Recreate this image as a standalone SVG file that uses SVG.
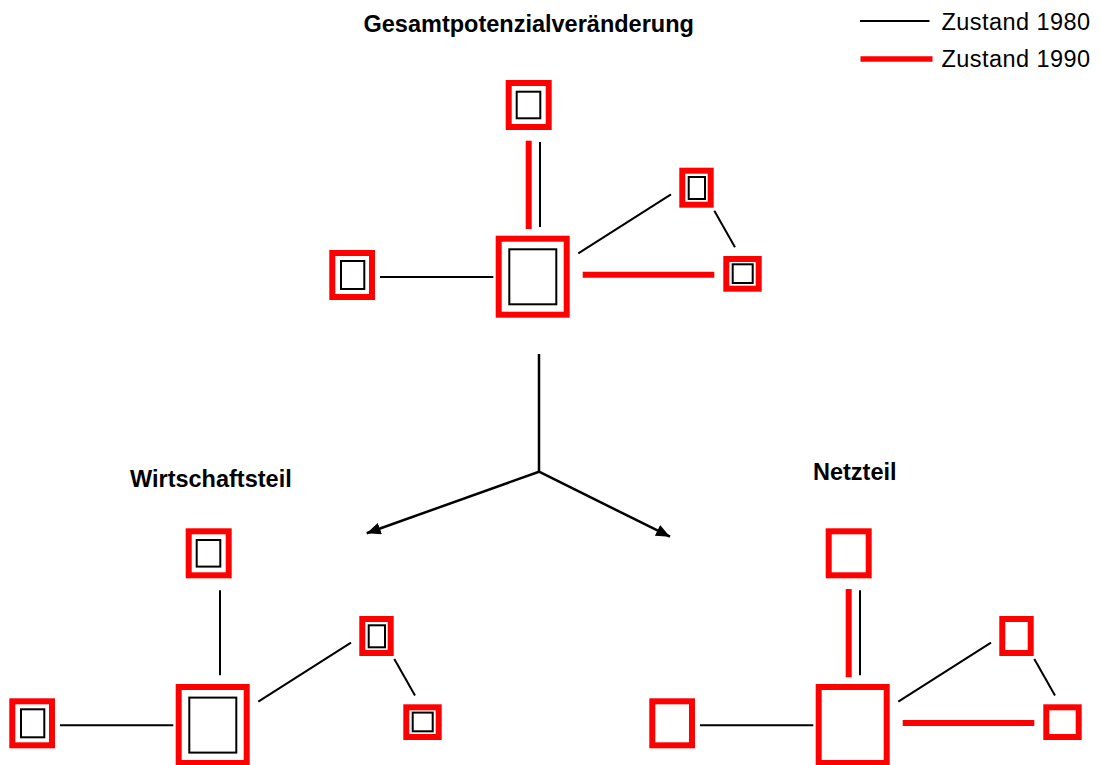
<svg xmlns="http://www.w3.org/2000/svg" width="1100" height="765" viewBox="0 0 1100 765">
<style>
.bg{fill:#fff}
.o{fill:none;stroke:#ff0000;stroke-width:6}
.i{fill:none;stroke:#000;stroke-width:2}
.k{stroke:#000;stroke-width:2;fill:none}
.r{stroke:#ff0000;stroke-width:6;fill:none}
.a{stroke:#000;stroke-width:2.5;fill:none}
.t{font-family:"Liberation Sans",Arial,sans-serif;font-weight:bold;font-size:23.5px;fill:#000}
.l{font-family:"Liberation Sans",Arial,sans-serif;font-size:23.5px;letter-spacing:0.45px;fill:#000}
</style>
<defs>
<marker id="ah" markerUnits="userSpaceOnUse" markerWidth="16" markerHeight="12" refX="14" refY="6" orient="auto">
<path d="M0,0 L14,6 L0,12 Z" fill="#000"/>
</marker>
</defs>
<rect class="bg" x="0" y="0" width="1100" height="765"/>

<g id="legend">
<line class="k" x1="860" y1="21" x2="929.5" y2="21"/>
<line x1="860.5" y1="59" x2="932.5" y2="59" stroke="#ff0000" stroke-width="5.5"/>
<text class="l" x="941.5" y="29.5">Zustand 1980</text>
<text class="l" x="941.5" y="67">Zustand 1990</text>
</g>

<g id="titles">
<text class="t" x="363.5" y="31.5">Gesamtpotenzialveränderung</text>
<text class="t" x="130" y="486.5">Wirtschaftsteil</text>
<text class="t" x="813" y="480">Netzteil</text>
</g>

<!-- Top panel: Gesamt -->
<g id="gesamt">
<g id="gesamt-connectors">
<line class="r" x1="528.7" y1="140.7" x2="528.7" y2="229"/>
<line class="k" x1="540" y1="142" x2="540" y2="227"/>
<line class="k" x1="380" y1="277" x2="493.3" y2="277"/>
<line class="k" x1="578.3" y1="253.3" x2="671" y2="194.3"/>
<line class="k" x1="714.3" y1="210.7" x2="735" y2="247.3"/>
<line class="r" x1="582.7" y1="274.7" x2="714.3" y2="274.7"/>
</g>
<g id="gesamt-top"><rect class="o" x="508.7" y="83" width="40" height="44"/><rect class="i" x="516.7" y="91.7" width="23.6" height="26.6"/></g>
<g id="gesamt-center"><rect class="o" x="498.7" y="238.7" width="68" height="76"/><rect class="i" x="509.3" y="249.3" width="47" height="55"/></g>
<g id="gesamt-left"><rect class="o" x="332.3" y="253" width="39.7" height="44"/><rect class="i" x="341" y="261" width="23.3" height="28"/></g>
<g id="gesamt-upper-right"><rect class="o" x="682.3" y="170.7" width="28.4" height="34"/><rect class="i" x="688.7" y="177" width="16.3" height="22"/></g>
<g id="gesamt-lower-right"><rect class="o" x="726.3" y="259" width="32.4" height="29.7"/><rect class="i" x="732.7" y="264.3" width="20" height="18.7"/></g>
</g>

<!-- Split arrows -->
<g id="split-connectors">
<line class="a" x1="539" y1="354" x2="539" y2="471.7"/>
<line class="a" x1="539" y1="471.7" x2="366.7" y2="533.3" marker-end="url(#ah)"/>
<line class="a" x1="539" y1="471.7" x2="670" y2="536.7" marker-end="url(#ah)"/>
</g>

<!-- Bottom-left panel: Wirtschaftsteil -->
<g id="wirtschaft" transform="translate(-320,448.3)">
<g id="wirtschaft-connectors">
<line class="k" x1="540" y1="142" x2="540" y2="227"/>
<line class="k" x1="380" y1="277" x2="493.3" y2="277"/>
<line class="k" x1="578.3" y1="253.3" x2="671" y2="194.3"/>
<line class="k" x1="714.3" y1="210.7" x2="735" y2="247.3"/>
</g>
<g id="wirtschaft-top"><rect class="o" x="508.7" y="83" width="40" height="44"/><rect class="i" x="516.7" y="91.7" width="23.6" height="26.6"/></g>
<g id="wirtschaft-center"><rect class="o" x="498.7" y="238.7" width="68" height="76"/><rect class="i" x="509.3" y="249.3" width="47" height="55"/></g>
<g id="wirtschaft-left"><rect class="o" x="332.3" y="253" width="39.7" height="44"/><rect class="i" x="341" y="261" width="23.3" height="28"/></g>
<g id="wirtschaft-upper-right"><rect class="o" x="682.3" y="170.7" width="28.4" height="34"/><rect class="i" x="688.7" y="177" width="16.3" height="22"/></g>
<g id="wirtschaft-lower-right"><rect class="o" x="726.3" y="259" width="32.4" height="29.7"/><rect class="i" x="732.7" y="264.3" width="20" height="18.7"/></g>
</g>

<!-- Bottom-right panel: Netzteil -->
<g id="netz" transform="translate(320,448.3)">
<g id="netz-connectors">
<line class="r" x1="528.7" y1="140.7" x2="528.7" y2="229"/>
<line class="k" x1="540" y1="142" x2="540" y2="227"/>
<line class="k" x1="380" y1="277" x2="493.3" y2="277"/>
<line class="k" x1="578.3" y1="253.3" x2="671" y2="194.3"/>
<line class="k" x1="714.3" y1="210.7" x2="735" y2="247.3"/>
<line class="r" x1="582.7" y1="274.7" x2="714.3" y2="274.7"/>
</g>
<g id="netz-top"><rect class="o" x="508.7" y="83" width="40" height="44"/></g>
<g id="netz-center"><rect class="o" x="498.7" y="238.7" width="68" height="76"/></g>
<g id="netz-left"><rect class="o" x="332.3" y="253" width="39.7" height="44"/></g>
<g id="netz-upper-right"><rect class="o" x="682.3" y="170.7" width="28.4" height="34"/></g>
<g id="netz-lower-right"><rect class="o" x="726.3" y="259" width="32.4" height="29.7"/></g>
</g>
</svg>
